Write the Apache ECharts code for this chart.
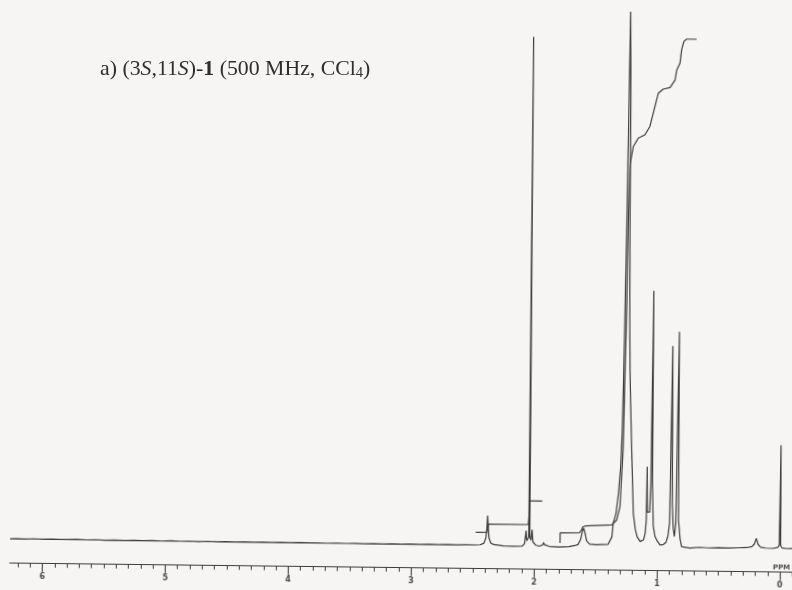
<!DOCTYPE html>
<html>
<head>
<meta charset="utf-8">
<script src="https://cdn.jsdelivr.net/npm/echarts@6/dist/echarts.min.js"></script>
<style>
  html, body { margin: 0; padding: 0; width: 792px; height: 590px; overflow: hidden; background: #f6f5f4; }
  /* the recorder chart paper sits slightly skewed on the page */
  #chart { position: absolute; left: 0; top: 0; width: 800px; height: 590px;
           transform: rotate(0.67deg); transform-origin: 396px 295px; }
  #caption { position: absolute; left: 0; top: 0; width: 792px; height: 590px; pointer-events: none; }
</style>
</head>
<body>
<div id="chart"></div>
<div id="caption"></div>
<script>
// 1H NMR trace: [chemical shift (ppm), relative intensity (tallest line = 100)]
const spectrum = [
  [6.264,0.10],[6.21,0.16],[6.14,0.12],[6.07,0.19],[6.00,0.13],[5.93,0.18],[5.86,0.12],[5.80,0.11],
  [5.72,0.16],[5.64,0.09],[5.57,0.14],[5.49,0.08],[5.42,0.13],[5.33,0.07],[5.26,0.12],[5.18,0.06],
  [5.11,0.11],[5.03,0.05],[4.96,0.10],[4.88,0.05],[4.81,0.09],[4.73,0.04],[4.66,0.09],[4.58,0.03],
  [4.51,0.08],[4.43,0.03],[4.36,0.07],[4.28,0.02],[4.21,0.07],[4.13,0.02],[4.06,0.06],[3.98,0.01],
  [3.91,0.06],[3.83,0.01],[3.76,0.05],[3.68,0.00],[3.61,0.05],[3.53,0.00],[3.46,0.04],[3.38,-0.01],
  [3.31,0.04],[3.23,-0.01],[3.16,0.03],[3.08,-0.02],[3.01,0.03],[2.93,-0.02],[2.86,0.02],[2.78,-0.02],
  [2.71,0.02],[2.63,-0.02],[2.56,0.01],[2.48,0.00],
  // 2.38 multiplet
  [2.44,0.05],[2.41,0.35],[2.395,1.3],[2.388,3.0],[2.382,5.5],[2.376,3.2],[2.37,1.4],[2.355,0.4],
  [2.33,0.1],[2.25,-0.1],[2.17,-0.15],[2.10,-0.1],
  // acetyl singlet with satellites
  [2.08,0.3],[2.068,2.8],[2.062,0.9],[2.052,0.8],[2.046,1.6],[2.054,95.1],[2.038,1.6],[2.028,1.0],
  [2.02,3.0],[2.012,0.7],[1.99,0.1],[1.96,-0.1],[1.93,0.2],[1.925,0.6],[1.918,0.2],[1.88,-0.1],
  [1.80,-0.2],[1.72,-0.1],[1.67,0.1],
  // 1.60 multiplet
  [1.645,0.3],[1.625,1.2],[1.61,2.8],[1.60,3.4],[1.59,2.6],[1.575,1.0],[1.55,0.4],[1.50,0.3],
  [1.45,0.35],[1.40,0.4],
  // methylene envelope
  [1.385,0.6],[1.37,1.8],[1.361,4.3],[1.35,5.2],[1.339,6.2],[1.321,9.9],[1.305,15],[1.296,21.8],
  [1.290,31],[1.284,45],[1.278,62],[1.272,82],[1.267,100],[1.258,85],[1.252,60],[1.245,42],
  [1.238,33],[1.232,28],[1.218,18.7],[1.198,6.2],[1.18,3.2],[1.165,1.9],[1.14,1.0],[1.113,1.3],
  [1.10,2.5],[1.092,5.0],[1.089,15.0],[1.084,6.5],[1.076,6.3],[1.065,6.5],[1.058,12],[1.052,47.9],
  [1.045,12],[1.035,4],[1.02,2],[1.005,1.3],[0.978,0.4],[0.95,0.5],[0.93,0.9],[0.915,2],
  // methyl doublet
  [0.902,4.5],[0.892,37.6],[0.882,8],[0.872,3.5],[0.862,2.0],[0.852,4.5],[0.840,40.3],[0.830,5],
  [0.823,3.5],[0.815,1.5],[0.802,0.1],[0.734,-0.1],
  [0.66,0.05],[0.58,-0.05],[0.50,0.02],[0.42,-0.04],[0.34,0.05],[0.27,0.1],[0.23,0.3],[0.21,0.8],
  [0.195,1.85],[0.18,0.7],[0.16,0.2],[0.12,0.05],[0.06,0.0],[0.02,0.2],[0.008,0.6],
  // TMS
  [0.003,19.3],[-0.003,0.6],[-0.015,0.1],[-0.05,0.0],[-0.10,0.04],[-0.137,0.03]
];

// integral trace, two separately started segments
const integralA = [
  [2.478,2.36],[2.386,2.39],[2.380,3.2],[2.376,3.89],[2.051,3.96],[2.046,5.5],[2.040,8.34],[1.94,8.35]
];
const integralB = [
  [1.791,0.54],[1.791,2.47],[1.636,2.5],[1.62,2.9],[1.606,3.64],[1.58,3.8],[1.372,4.04],[1.333,4.95],
  [1.307,7.48],[1.286,18.6],[1.279,31.2],[1.27,46.1],[1.266,61.1],[1.258,71.4],[1.233,74.8],
  [1.193,76.4],[1.14,77.0],[1.1,78.6],[1.061,82.3],[1.035,84.8],[0.995,85.6],[0.94,85.9],[0.9,87.3],
  [0.887,89.2],[0.861,90.5],[0.849,93.0],[0.831,94.6],[0.809,95.0],[0.728,95.0]
];

const majorTicks = [6, 5, 4, 3, 2, 1, 0];
const minorTicks = [];
for (let k = -1; k <= 62; k++) {
  if (k % 10 !== 0) minorTicks.push(k / 10);
}

const ink = '#3c3c3c';
const ppmMin = -0.137, ppmMax = 6.264;

const chart = echarts.init(document.getElementById('chart'), null, { renderer: 'canvas' });
chart.setOption({
  backgroundColor: 'transparent',
  animation: false,
  grid: { left: 13, right: 0, top: 0, bottom: 22.3 },
  xAxis: [
    {
      type: 'value', inverse: true, min: ppmMin, max: ppmMax,
      axisLine: { show: true, onZero: false, lineStyle: { color: ink, width: 1.2 } },
      axisTick: { show: true, customValues: majorTicks, length: 8, lineStyle: { color: ink, width: 1.1 } },
      axisLabel: { show: true, customValues: majorTicks, margin: 9, fontSize: 8,
                   fontFamily: 'DejaVu Sans', color: '#4a4a4a', fontWeight: 'bold' },
      splitLine: { show: false }
    },
    {
      type: 'value', inverse: true, min: ppmMin, max: ppmMax, position: 'bottom',
      axisLine: { show: false, onZero: false },
      axisTick: { show: true, customValues: minorTicks, length: 4, lineStyle: { color: ink, width: 1 } },
      axisLabel: { show: false },
      splitLine: { show: false }
    }
  ],
  yAxis: { type: 'value', min: -4.43, max: 101.68, show: false, splitLine: { show: false } },
  graphic: [
    { type: 'text', left: 776, top: 560,
      style: { text: 'PPM', fontSize: 7, fontFamily: 'DejaVu Sans', fontWeight: 'bold', fill: '#4a4a4a' } }
  ],
  series: [
    { type: 'line', data: spectrum, symbol: 'none', xAxisIndex: 0,
      lineStyle: { color: ink, width: 1.2 } },
    { type: 'line', data: integralA, symbol: 'none', xAxisIndex: 0,
      lineStyle: { color: ink, width: 1.2 } },
    { type: 'line', data: integralB, symbol: 'none', xAxisIndex: 0,
      lineStyle: { color: ink, width: 1.2 } }
  ]
});

// sample caption, set level on the page
const caption = echarts.init(document.getElementById('caption'), null, { renderer: 'canvas' });
caption.setOption({
  backgroundColor: 'transparent',
  animation: false,
  graphic: [{
    type: 'text', x: 100, y: 69,
    style: {
      text: '{n|a) (3}{i|S}{n|,11}{i|S}{n|)-}{b|1}{n| (500 MHz, CCl}{s|4}{n|)}',
      verticalAlign: 'middle',
      rich: {
        n: { fontFamily: 'Liberation Serif', fontSize: 21.8, lineHeight: 24, verticalAlign: 'middle', fill: '#2e2e2e' },
        i: { fontFamily: 'Liberation Serif', fontSize: 21.8, lineHeight: 24, fontStyle: 'italic', verticalAlign: 'middle', fill: '#2e2e2e' },
        b: { fontFamily: 'Liberation Serif', fontSize: 21.8, lineHeight: 24, fontWeight: 'bold', verticalAlign: 'middle', fill: '#2e2e2e' },
        s: { fontFamily: 'Liberation Serif', fontSize: 14.5, lineHeight: 14, verticalAlign: 'bottom', fill: '#2e2e2e' }
      }
    }
  }]
});
</script>
</body>
</html>
